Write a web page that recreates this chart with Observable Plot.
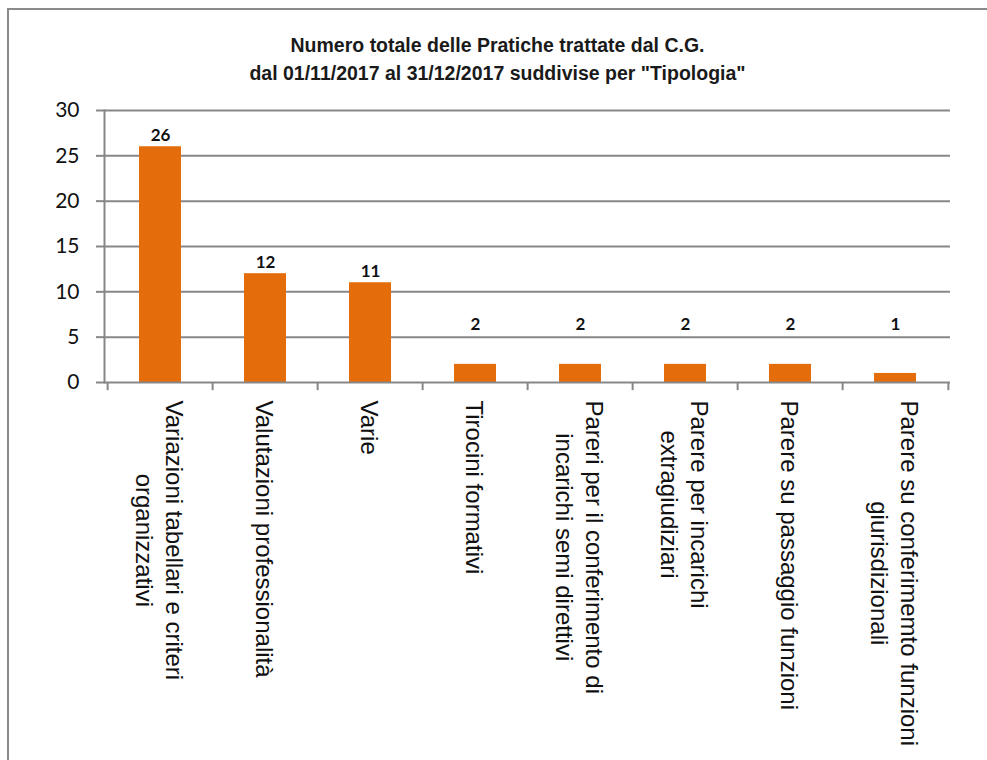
<!DOCTYPE html>
<html>
<head>
<meta charset="utf-8">
<script src="https://cdn.jsdelivr.net/npm/d3@7"></script>
<script src="https://cdn.jsdelivr.net/npm/@observablehq/plot@0.6"></script>
<style>
html, body { margin: 0; padding: 0; background: #fff; overflow: hidden; }
#wrap { position: relative; width: 987px; height: 760px; overflow: hidden; }
#border { position: absolute; left: 7px; top: 8px; width: 1000px; height: 800px; border-left: 2px solid #8a8a8a; border-top: 2px solid #8a8a8a; }
#title { position: relative; height: 95px; box-sizing: border-box; padding-top: 31px; padding-left: 8px; text-align: center;
  font-family: "Liberation Sans Narrow", "Arial Narrow", sans-serif; font-weight: bold; font-size: 19.5px; line-height: 28px; color: #1a1a1a; }
#chart { position: relative; }
</style>
</head>
<body>
<div id="wrap">
  <div id="border"></div>
  <div id="title">Numero totale delle Pratiche trattate dal C.G.<br>dal 01/11/2017 al 31/12/2017 suddivise per "Tipologia"</div>
  <div id="chart"></div>
</div>
<script>
const categories = [
  "Variazioni tabellari e criteri\norganizzativi",
  "Valutazioni professionalità",
  "Varie",
  "Tirocini formativi",
  "Pareri per il conferimento di\nincarichi semi direttivi",
  "Parere per incarichi\nextragiudiziari",
  "Parere su passaggio funzioni",
  "Parere su conferimemto funzioni\ngiurisdizionali"
];
const values = [26, 12, 11, 2, 2, 2, 2, 1];
const yTicks = [0, 5, 10, 15, 20, 25, 30];

const data = categories.map((c, i) => ({category: c, value: values[i]}));

const W = 987, H = 665, ML = 104, MR = 37, MT = 15, MB = 378;
const step = (W - ML - MR) / categories.length;
const gridColor = "#878787";
const narrow = "'Liberation Sans Narrow', 'Arial Narrow', sans-serif";
const calib = "Lato, 'Open Sans', sans-serif";

const chart = Plot.plot({
  width: W, height: H,
  marginLeft: ML, marginRight: MR, marginTop: MT, marginBottom: MB,
  style: {background: "transparent", overflow: "visible"},
  x: {domain: categories, paddingInner: 0.6, paddingOuter: 0.3, align: 0.5, label: null},
  y: {domain: [0, 30], label: null},
  marks: [
    Plot.ruleY(yTicks.filter(t => t > 0), {y: d => d, stroke: gridColor, strokeWidth: 2}),
    Plot.barY(data, {x: "category", y: "value", fill: "#E46C0A"}),
    Plot.frame({anchor: "left", stroke: gridColor, strokeWidth: 2}),
    Plot.ruleY([0], {stroke: gridColor, strokeWidth: 2}),
    Plot.axisY({ticks: yTicks, tickSize: 8, tickPadding: 17, stroke: gridColor, strokeWidth: 2,
      fontSize: 21, fontFamily: calib, fill: "#111", label: null}),
    Plot.ruleX(categories, {x: d => d, dx: -step / 2, y1: 0, y2: -0.9, stroke: gridColor, strokeWidth: 2}),
    Plot.ruleX(categories.slice(-1), {x: d => d, dx: step / 2, y1: 0, y2: -0.9, stroke: gridColor, strokeWidth: 2}),
    Plot.axisX({tickSize: 0, tickPadding: 18, tickRotate: 90, textAnchor: "start", lineAnchor: "middle",
      fontSize: 24, lineHeight: 1.25, fontFamily: narrow, fill: "#111", label: null}),
    Plot.text(data, {x: "category", y: d => Math.max(d.value + 1.2, 6.4), text: d => String(d.value),
      fontWeight: "bold", fontSize: 17, fontFamily: calib, fill: "#111"})
  ]
});
document.getElementById("chart").appendChild(chart);

// center wrapped label lines relative to each other while keeping them top-aligned
chart.querySelectorAll('g[aria-label="x-axis tick label"] text').forEach(t => {
  const spans = t.querySelectorAll("tspan");
  if (spans.length < 2) return;
  let w = 0;
  spans.forEach(s => { w = Math.max(w, s.getComputedTextLength()); });
  t.setAttribute("text-anchor", "middle");
  t.setAttribute("transform", (t.getAttribute("transform") || "") + ` translate(${w / 2},0)`);
});
</script>
</body>
</html>
